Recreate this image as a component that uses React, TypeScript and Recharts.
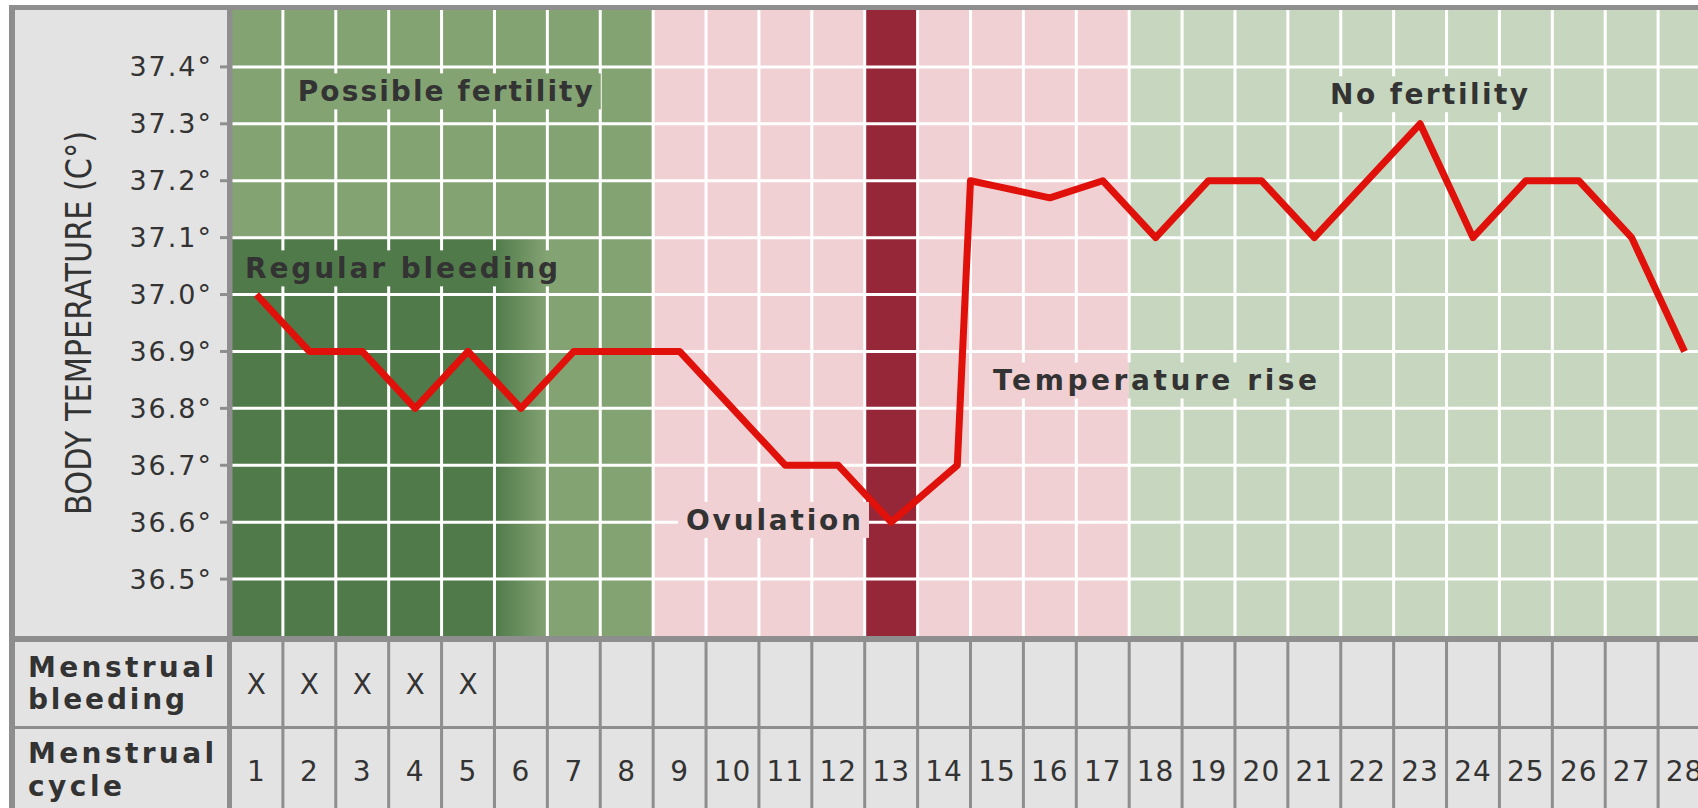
import React from "react";
import {
  LineChart,
  Line,
  XAxis,
  YAxis,
  ReferenceArea,
  ReferenceLine,
  ReferenceDot,
} from "recharts";

// basal body temperature over one menstrual cycle

const cycleDays = [
  1, 2, 3, 4, 5, 6, 7, 8, 9, 10, 11, 12, 13, 14, 15, 16, 17, 18, 19, 20, 21,
  22, 23, 24, 25, 26, 27, 28,
];
const bleedingDays = [1, 2, 3, 4, 5];
const tempTicks = [36.5, 36.6, 36.7, 36.8, 36.9, 37.0, 37.1, 37.2, 37.3, 37.4];

// vertices of the drawn curve (day position, °C) – the rise happens just after day 14
const curveDays = [
  1, 2, 3, 4, 5, 6, 7, 8, 9, 10, 11, 12, 13, 14.25, 14.5, 15, 16, 17, 18, 19,
  20, 21, 22, 23, 24, 25, 26, 27, 28,
];
const curveTemps = [
  37.0, 36.9, 36.9, 36.8, 36.9, 36.8, 36.9, 36.9, 36.9, 36.8, 36.7, 36.7, 36.6,
  36.7, 37.2, 37.19, 37.17, 37.2, 37.1, 37.2, 37.2, 37.1, 37.2, 37.3, 37.1,
  37.2, 37.2, 37.1, 36.9,
];

// phases: first and last day
const fertileRange = [1, 8];
const postOvulationRange = [9, 17];
const ovulationDay = 13;
const infertileRange = [18, 28];
const bleedingTopTemp = 37.1;

const GRAY = "#8e8e8e";
const PANEL = "#e3e3e3";
const INK = "#333333";
const GREEN = "#84a373";
const DARK_GREEN = "#507a4a";
const PINK = "#f0d0d3";
const DARK_RED = "#962739";
const LIGHT_GREEN = "#c7d7bf";
const RED = "#e0100a";

const COL_W = 1481 / 28;

const chartData = curveDays.map((d, i) => ({ day: d, temp: curveTemps[i] }));
const boundaries = cycleDays.slice(1).map((d) => d - 0.5);

function TableTick(props: any) {
  const { x, y, payload } = props;
  const day = payload.value;
  const half = COL_W / 2;
  return (
    <g>
      <rect x={x - half} y={y} width={COL_W} height={6} fill={GRAY} />
      <rect x={x - half} y={y + 90} width={COL_W} height={3} fill={GRAY} />
      <rect x={x + half - 1.5} y={y} width={3} height={172} fill={GRAY} />
      {bleedingDays.includes(day) && (
        <text x={x} y={y + 58} textAnchor="middle" fontSize={28} fill={INK}>
          X
        </text>
      )}
      <text
        x={x}
        y={y + 145}
        textAnchor="middle"
        fontSize={28}
        letterSpacing={1}
        fill={INK}
      >
        {day}
      </text>
    </g>
  );
}

function TempTitle(props: any) {
  const vb = props.viewBox || { x: 15, y: 10, height: 626 };
  const cx = vb.x + 76;
  const cy = vb.y + vb.height / 2;
  return (
    <text
      transform={`translate(${cx},${cy}) rotate(-90)`}
      textAnchor="middle"
      fontSize={35}
      fill={INK}
      textLength={384}
      lengthAdjust="spacingAndGlyphs"
    >
      BODY TEMPERATURE (C°)
    </text>
  );
}

function ZoneLabel(props: any) {
  const { viewBox, text, span, bg } = props;
  const cx = viewBox.x + (viewBox.width || 0) / 2;
  const cy = viewBox.y + (viewBox.height || 0) / 2;
  const w = span + 16;
  return (
    <g>
      <rect x={cx - w / 2} y={cy - 18} width={w} height={36} fill={bg} />
      <text
        x={cx}
        y={cy + 10}
        textAnchor="middle"
        fontSize={28}
        fontWeight="bold"
        fill={INK}
        textLength={span}
        lengthAdjust="spacing"
      >
        {text}
      </text>
    </g>
  );
}

export default function App() {
  return (
    <div
      style={{
        position: "absolute",
        left: 0,
        top: 0,
        width: 1698,
        height: 808,
        overflow: "hidden",
        background: "#fff",
        fontFamily: "'DejaVu Sans', sans-serif",
      }}
    >
      {/* frame, label panel, table rules on the panel side */}
      <div style={{ position: "absolute", left: 9, top: 5, width: 1689, height: 803, background: GRAY }} />
      <div style={{ position: "absolute", left: 15, top: 10, width: 1683, height: 798, background: PANEL }} />
      <div style={{ position: "absolute", left: 15, top: 636, width: 217, height: 6, background: GRAY }} />
      <div style={{ position: "absolute", left: 15, top: 726, width: 217, height: 3, background: GRAY }} />
      <div style={{ position: "absolute", left: 227, top: 10, width: 5, height: 798, background: GRAY }} />

      <div style={{ position: "absolute", left: 0, top: 0 }}>
        <LineChart
          width={1720}
          height={808}
          data={chartData}
          margin={{ top: 10, right: 9, bottom: 0, left: 15 }}
        >
          <defs>
            <linearGradient id="bleedFade" x1="0" y1="0" x2="1" y2="0">
              <stop offset="0%" stopColor={DARK_GREEN} />
              <stop offset="100%" stopColor={GREEN} />
            </linearGradient>
            <linearGradient id="bleedLabelBg" x1="0" y1="0" x2="1" y2="0">
              <stop offset="0.78" stopColor={DARK_GREEN} />
              <stop offset="0.943" stopColor={GREEN} />
            </linearGradient>
            <linearGradient id="riseLabelBg" x1="0" y1="0" x2="1" y2="0">
              <stop offset="0.4235" stopColor={PINK} />
              <stop offset="0.4235" stopColor={LIGHT_GREEN} />
            </linearGradient>
          </defs>

          {/* cycle phases */}
          <ReferenceArea
            x1={fertileRange[0] - 0.5}
            x2={fertileRange[1] + 0.5}
            fill={GREEN}
            fillOpacity={1}
          />
          <ReferenceArea
            x1={postOvulationRange[0] - 0.5}
            x2={postOvulationRange[1] + 0.5}
            fill={PINK}
            fillOpacity={1}
          />
          <ReferenceArea
            x1={ovulationDay - 0.5}
            x2={ovulationDay + 0.5}
            fill={DARK_RED}
            fillOpacity={1}
          />
          <ReferenceArea
            x1={infertileRange[0] - 0.5}
            x2={infertileRange[1] + 0.5}
            fill={LIGHT_GREEN}
            fillOpacity={1}
          />
          <ReferenceArea
            x1={bleedingDays[0] - 0.5}
            x2={bleedingDays[bleedingDays.length - 1] + 0.5}
            y1={36.4}
            y2={bleedingTopTemp}
            fill={DARK_GREEN}
            fillOpacity={1}
          />
          <ReferenceArea
            x1={bleedingDays[bleedingDays.length - 1] + 0.5}
            x2={bleedingDays[bleedingDays.length - 1] + 1.5}
            y1={36.4}
            y2={bleedingTopTemp}
            fill="url(#bleedFade)"
            fillOpacity={1}
          />

          {/* white grid */}
          {boundaries.map((b) => (
            <ReferenceLine key={`v${b}`} x={b} stroke="#fff" strokeWidth={3} />
          ))}
          {tempTicks.map((t) => (
            <ReferenceLine key={`h${t}`} y={t} stroke="#fff" strokeWidth={3} />
          ))}

          <XAxis
            type="number"
            dataKey="day"
            domain={[0.5, 28.5]}
            ticks={cycleDays}
            interval={0}
            height={172}
            axisLine={false}
            tickLine={false}
            tickSize={0}
            tickMargin={0}
            tick={<TableTick />}
          />
          <YAxis
            type="number"
            domain={[36.4, 37.5]}
            ticks={tempTicks}
            width={215}
            allowDataOverflow
            axisLine={{ stroke: GRAY, strokeWidth: 5 }}
            tickLine={{ stroke: GRAY, strokeWidth: 3 }}
            tickSize={10}
            tickMargin={7}
            tick={{ fill: INK, fontSize: 27, letterSpacing: 2 }}
            tickFormatter={(v: number) => v.toFixed(1) + "°"}
            label={<TempTitle />}
          />

          <ReferenceDot
            x={4.57}
            y={37.357}
            r={0}
            label={<ZoneLabel text="Possible fertility" span={295} bg={GREEN} />}
          />
          <ReferenceDot
            x={3.743}
            y={37.046}
            r={0}
            label={<ZoneLabel text="Regular bleeding" span={313} bg="url(#bleedLabelBg)" />}
          />
          <ReferenceDot
            x={10.776}
            y={36.604}
            r={0}
            label={<ZoneLabel text="Ovulation" span={175} bg={PINK} />}
          />
          <ReferenceDot
            x={17.99}
            y={36.849}
            r={0}
            label={<ZoneLabel text="Temperature rise" span={324} bg="url(#riseLabelBg)" />}
          />
          <ReferenceDot
            x={23.17}
            y={37.352}
            r={0}
            label={<ZoneLabel text="No fertility" span={198} bg={LIGHT_GREEN} />}
          />

          <Line
            type="linear"
            dataKey="temp"
            stroke={RED}
            strokeWidth={7}
            strokeLinejoin="round"
            dot={false}
            activeDot={false}
            isAnimationActive={false}
          />
        </LineChart>
      </div>

      {/* row headings of the table */}
      <svg
        width={230}
        height={808}
        style={{ position: "absolute", left: 0, top: 0 }}
      >
        <g fontSize={28} fontWeight="bold" fill={INK}>
          <text x={28} y={677} textLength={186} lengthAdjust="spacing">Menstrual</text>
          <text x={28} y={709} textLength={157} lengthAdjust="spacing">bleeding</text>
          <text x={28} y={763} textLength={186} lengthAdjust="spacing">Menstrual</text>
          <text x={28} y={796} textLength={94} lengthAdjust="spacing">cycle</text>
        </g>
      </svg>
    </div>
  );
}
